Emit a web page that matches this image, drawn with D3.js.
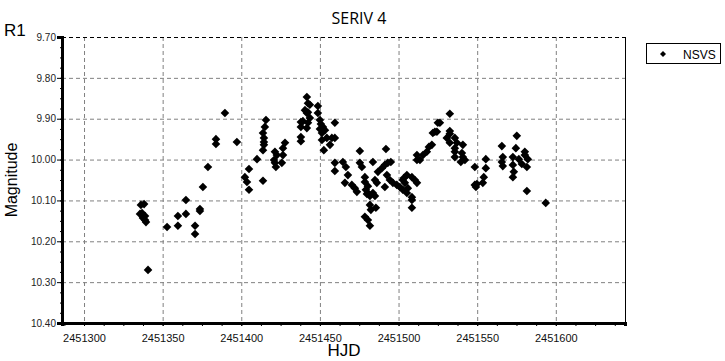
<!DOCTYPE html>
<html lang="en">
<head>
    <meta charset="UTF-8">
    <title>SERIV 4</title>
    <script src="https://d3js.org/d3.v7.min.js"></script>
    <style>
        body { margin: 0; background: #fff; }
        text { font-family: "Liberation Sans", Arial, sans-serif; }
    </style>
</head>
<body>
    <div id="chart"></div>
    <script>

        // NSVS observations (HJD, magnitude)
        const hjd = [
            2451336.2, 2451338.2, 2451335.6, 2451336.9, 2451338.8, 2451337.5, 2451338.8, 2451339.4, 2451340.7,
            2451352.8, 2451359.7, 2451359.7, 2451364.8, 2451364.8, 2451370.6, 2451370.6, 2451373.7, 2451373.7,
            2451375.6, 2451378.8, 2451383.9, 2451383.9, 2451389.6, 2451397.2, 2451402.3, 2451403.6, 2451404.9,
            2451404.9, 2451410.0, 2451413.8, 2451413.8, 2451414.4, 2451414.4, 2451413.8, 2451415.0, 2451415.7,
            2451414.4, 2451421.4, 2451420.8, 2451421.4, 2451422.0, 2451422.6, 2451427.8, 2451426.5, 2451426.5,
            2451425.8,
            2451437.9, 2451437.9, 2451437.9, 2451437.9, 2451441.7, 2451442.4, 2451443.6, 2451440.5, 2451442.4,
            2451441.7, 2451443.6, 2451442.4, 2451441.7, 2451439.2, 2451448.7, 2451448.7, 2451450.0, 2451450.6,
            2451451.9, 2451450.0, 2451453.2, 2451451.3, 2451451.3, 2451454.4, 2451452.5, 2451456.4, 2451459.5,
            2451459.5, 2451457.6,
            2451459.5, 2451459.5, 2451464.6, 2451466.5, 2451467.8, 2451465.9, 2451475.4, 2451475.4, 2451476.7,
            2451470.3, 2451472.2, 2451473.5, 2451478.6, 2451478.6, 2451479.2, 2451479.9, 2451480.5, 2451481.8,
            2451483.7, 2451485.0, 2451480.5, 2451483.7, 2451485.0, 2451486.2, 2451481.8, 2451482.4, 2451485.6,
            2451478.6, 2451480.5, 2451481.8, 2451492.0, 2451486.9, 2451489.4, 2451491.3, 2451493.2, 2451495.1,
            2451491.3, 2451492.6, 2451494.5, 2451496.4, 2451498.9, 2451500.8, 2451502.7, 2451504.0, 2451502.7,
            2451505.3, 2451505.9, 2451503.4, 2451505.3, 2451508.5, 2451510.4, 2451511.7, 2451508.5, 2451508.5,
            2451508.5,
            2451511.7, 2451511.7, 2451513.6, 2451515.5, 2451518.0, 2451519.3, 2451521.2, 2451521.8, 2451523.1,
            2451524.4, 2451525.0, 2451526.3, 2451532.6, 2451532.6, 2451532.6, 2451530.7, 2451532.6, 2451535.8,
            2451537.1, 2451535.8, 2451535.8, 2451535.8, 2451540.3, 2451540.9, 2451540.9, 2451542.2, 2451539.6,
            2451548.5,
            2451548.5, 2451549.2, 2451549.8, 2451553.6, 2451554.2, 2451555.5, 2451555.5, 2451565.7, 2451566.3,
            2451565.7, 2451566.3, 2451572.7, 2451572.7, 2451573.3, 2451572.7, 2451574.6, 2451575.2, 2451576.5,
            2451580.3, 2451580.3, 2451578.4, 2451581.6, 2451582.2, 2451581.6, 2451593.6
        ];
        const mag = [
            10.111, 10.109, 10.133, 10.131, 10.138, 10.143, 10.148, 10.153, 10.270,
            10.165, 10.138, 10.162, 10.099, 10.133, 10.162, 10.182, 10.121, 10.126,
            10.067, 10.018, 9.950, 9.962, 9.886, 9.957, 10.043, 10.055, 10.074,
            10.023, 9.999, 10.052, 9.977, 9.957, 9.964, 9.935, 9.920, 9.903,
            9.947, 9.981, 10.001, 10.008, 10.018, 9.989, 9.959, 9.972, 9.989,
            10.008,
            9.908, 9.920, 9.945, 9.955, 9.847, 9.862, 9.866, 9.879, 9.884,
            9.886, 9.898, 9.910, 9.923, 9.906, 9.869, 9.886, 9.903, 9.913,
            9.920, 9.925, 9.928, 9.935, 9.952, 9.947, 9.977, 9.964, 9.910,
            9.947, 9.947,
            10.008, 10.028, 10.006, 10.018, 10.038, 10.057, 9.979, 10.008, 10.018,
            10.062, 10.070, 10.079, 10.043, 10.055, 10.074, 10.084, 10.082, 10.089,
            10.082, 10.089, 10.065, 10.006, 10.050, 10.057, 10.111, 10.123, 10.118,
            10.140, 10.148, 10.162, 9.974, 10.030, 10.021, 10.013, 10.008, 10.006,
            10.067, 10.038, 10.050, 10.057, 10.062, 10.067, 10.050, 10.057, 10.074,
            10.082, 10.070, 10.045, 10.038, 10.043, 10.050, 10.057, 10.092, 10.099,
            10.118,
            9.989, 10.001, 10.001, 9.989, 9.981, 9.969, 9.964, 9.935, 9.932,
            9.932, 9.910, 9.910, 9.888, 9.930, 9.937, 9.947, 9.959, 9.947,
            9.959, 9.972, 9.981, 9.994, 9.984, 9.964, 9.994, 10.001, 10.006,
            10.018,
            10.062, 10.067, 10.060, 10.057, 10.043, 10.021, 9.999, 9.967, 9.994,
            10.006, 10.016, 9.994, 10.013, 10.030, 10.043, 9.972, 9.942, 9.999,
            9.981, 9.989, 10.011, 10.018, 9.999, 10.077, 10.106
        ];

        const xTicks = [2451300, 2451350, 2451400, 2451450, 2451500, 2451550, 2451600];
        const yTicks = [9.70, 9.80, 9.90, 10.00, 10.10, 10.20, 10.30, 10.40];
        const seriesName = "NSVS";

        const width = 725, height = 361;
        const plot = { left: 62, right: 625, top: 37, bottom: 323 };

        const x = d3.scaleLinear().domain([2451286, 2451644]).range([plot.left, plot.right]);
        const y = d3.scaleLinear().domain([9.70, 10.40]).range([plot.top, plot.bottom]);

        const svg = d3.select("#chart").append("svg")
            .attr("width", width)
            .attr("height", height);

        // grid
        svg.append("g").selectAll("line").data(xTicks).join("line")
            .attr("x1", d => x(d) + 0.5).attr("x2", d => x(d) + 0.5)
            .attr("y1", plot.top).attr("y2", plot.bottom)
            .attr("stroke", "#808080").attr("stroke-dasharray", "4,3");
        svg.append("g").selectAll("line").data(yTicks.slice(1, -1)).join("line")
            .attr("x1", plot.left).attr("x2", plot.right)
            .attr("y1", d => y(d) + 0.5).attr("y2", d => y(d) + 0.5)
            .attr("stroke", "#808080").attr("stroke-dasharray", "4,3");

        // top dashed border, right solid border
        svg.append("line")
            .attr("x1", plot.left).attr("x2", plot.right)
            .attr("y1", plot.top + 0.5).attr("y2", plot.top + 0.5)
            .attr("stroke", "#000").attr("stroke-dasharray", "4,3");
        svg.append("line")
            .attr("x1", plot.right + 0.5).attr("x2", plot.right + 0.5)
            .attr("y1", plot.top).attr("y2", plot.bottom)
            .attr("stroke", "#000");

        // axes
        const xAxis = d3.axisBottom(x).tickValues(xTicks).tickSize(3).tickFormat(d3.format("d"));
        const xMinor = d3.axisBottom(x).tickValues(d3.range(2451287.5, 2451644, 12.5)).tickSize(3).tickFormat("");
        const yAxis = d3.axisLeft(y).tickValues(yTicks).tickSize(5).tickFormat(d3.format(".2f"));
        const yMinor = d3.axisLeft(y).tickValues(d3.range(9.725, 10.40, 0.025)).tickSize(2).tickFormat("");

        const gx = svg.append("g").attr("transform", `translate(0,${plot.bottom})`).call(xAxis);
        svg.append("g").attr("transform", `translate(0,${plot.bottom})`).call(xMinor)
            .call(g => g.select(".domain").remove());
        gx.select(".domain").attr("stroke-width", 3);
        gx.selectAll("text").attr("dy", "1.15em").attr("font-size", 11)
            .attr("font-family", "Liberation Sans, Arial, sans-serif").attr("fill", "#111");

        const gy = svg.append("g").attr("transform", `translate(${plot.left},0)`).call(yAxis);
        svg.append("g").attr("transform", `translate(${plot.left},0)`).call(yMinor)
            .call(g => g.select(".domain").remove());
        gy.select(".domain").attr("stroke-width", 3);
        gy.selectAll("text").attr("font-size", 10).attr("x", -6)
            .attr("font-family", "Liberation Sans, Arial, sans-serif").attr("fill", "#222");

        // points
        const diamond = "M0,-4.3L4.3,0L0,4.3L-4.3,0Z";
        svg.append("g").selectAll("path").data(hjd).join("path")
            .attr("d", diamond)
            .attr("transform", (d, i) => `translate(${x(d)},${y(mag[i])})`)
            .attr("fill", "#000");

        // titles
        svg.append("text").attr("x", 359).attr("y", 24).attr("text-anchor", "middle")
            .style("font-family", "'Open Sans', sans-serif").attr("font-size", 16).text("SERIV 4");
        svg.append("text").attr("x", 4).attr("y", 36).attr("font-size", 17).text("R1");
        svg.append("text").attr("transform", "translate(17,180) rotate(-90)")
            .attr("text-anchor", "middle").attr("font-size", 16).text("Magnitude");
        svg.append("text").attr("x", 344).attr("y", 356).attr("text-anchor", "middle")
            .attr("font-size", 17).text("HJD");

        // legend
        const lg = svg.append("g").attr("transform", "translate(646,43)");
        lg.append("rect").attr("x", 0.5).attr("y", 0.5).attr("width", 74).attr("height", 20)
            .attr("fill", "#fff").attr("stroke", "#000");
        lg.append("path").attr("d", "M0,-3L3,0L0,3L-3,0Z").attr("transform", "translate(17,11)");
        lg.append("text").attr("x", 37).attr("y", 15.5).attr("font-size", 12).text(seriesName);

    </script>
</body>
</html>
